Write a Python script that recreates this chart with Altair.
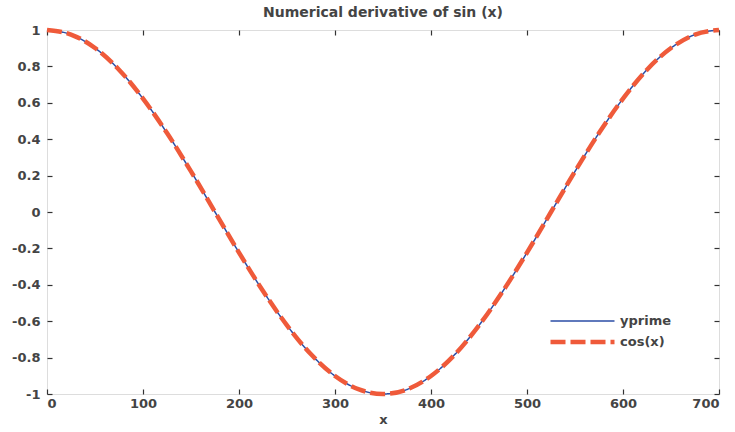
import altair as alt
import pandas as pd

x_vals = [0, 25, 50, 75, 100, 125, 150, 175, 200, 225, 250, 275, 300, 325, 350,
          375, 400, 425, 450, 475, 500, 525, 550, 575, 600, 625, 650, 675, 700]
yprime_vals = [1.0, 0.975, 0.901, 0.782, 0.623, 0.434, 0.223, 0.0, -0.223, -0.434,
               -0.623, -0.782, -0.901, -0.975, -1.0, -0.975, -0.901, -0.782, -0.623,
               -0.434, -0.223, 0.0, 0.223, 0.434, 0.623, 0.782, 0.901, 0.975, 1.0]
cos_vals = [1.0, 0.975, 0.901, 0.782, 0.623, 0.434, 0.223, 0.0, -0.223, -0.434,
            -0.623, -0.782, -0.901, -0.975, -1.0, -0.975, -0.901, -0.782, -0.623,
            -0.434, -0.223, 0.0, 0.223, 0.434, 0.623, 0.782, 0.901, 0.975, 1.0]
series_names = ["yprime", "cos(x)"]
x_ticks = [0, 100, 200, 300, 400, 500, 600, 700]
y_ticks = [-1, -0.8, -0.6, -0.4, -0.2, 0, 0.2, 0.4, 0.6, 0.8, 1]

df = pd.DataFrame({
    "x": x_vals * 2,
    "y": yprime_vals + cos_vals,
    "series": [series_names[0]] * len(x_vals) + [series_names[1]] * len(x_vals),
})

FONT = "DejaVu Sans"
TXT = "#444444"
lab_expr = "replace(datum.label, '\u2212', '-')"


def leg():
    return alt.Legend(title=None, orient="none", legendX=501, legendY=282,
                      symbolType="stroke", symbolSize=4096, clipHeight=18, rowPadding=3,
                      labelFont=FONT, labelFontSize=13, labelFontWeight="bold",
                      labelColor=TXT, labelOffset=3)


color = alt.Color("series:N", scale=alt.Scale(domain=series_names, range=["#2b4ea6", "#ef5a3a"]),
                  legend=leg())
dash = alt.StrokeDash("series:N", scale=alt.Scale(domain=series_names, range=[[1, 0], [15, 5]]),
                      legend=leg())
sw = alt.StrokeWidth("series:O", scale=alt.Scale(domain=series_names, range=[1.5, 4.5]),
                     legend=leg())

xscale = alt.Scale(domain=[0, 700], nice=False, zero=False)
yscale = alt.Scale(domain=[-1, 1], nice=False, zero=False)

ax_common = dict(domain=False, grid=False, tickSize=5, offset=-5, tickColor="#333333",
                 tickWidth=1.2, labelFont=FONT, labelFontSize=13, labelFontWeight="bold",
                 labelColor=TXT, titleFont=FONT, titleFontSize=13, titleColor=TXT,
                 titleFontWeight="bold")

blue = alt.Chart(df).transform_filter(alt.datum.series == "yprime").mark_line(
    interpolate="monotone").encode(
    x=alt.X("x:Q", scale=xscale,
            axis=alt.Axis(orient="bottom", values=x_ticks, title="x", labelPadding=3,
                          titlePadding=3, labelExpr=lab_expr, **ax_common)),
    y=alt.Y("y:Q", scale=yscale,
            axis=alt.Axis(orient="left", values=y_ticks, title=None, labelPadding=7,
                          format="~g", labelExpr=lab_expr, **ax_common)),
    color=color, strokeDash=dash, strokeWidth=sw,
)

red = alt.Chart(df).transform_filter(alt.datum.series == "cos(x)").mark_line(
    interpolate="monotone").encode(
    x=alt.X("x:Q", scale=xscale,
            axis=alt.Axis(orient="top", values=x_ticks, title=None, labels=False, **ax_common)),
    y=alt.Y("y:Q", scale=yscale,
            axis=alt.Axis(orient="right", values=y_ticks, title=None, labels=False, **ax_common)),
    color=color, strokeDash=dash, strokeWidth=sw,
)

chart = alt.layer(blue, red).resolve_axis(x="independent", y="independent").properties(
    width=672, height=364,
    autosize=alt.AutoSizeParams(type="none"),
    padding={"left": 47, "top": 30, "right": 16, "bottom": 38},
    title=alt.TitleParams("Numerical derivative of sin (x)", font=FONT, fontSize=14,
                          fontWeight="bold", color=TXT, offset=1, anchor="middle"),
).configure_view(stroke="#333333", strokeWidth=1.3).configure(background="white")

chart.save("out.html", embed_options={"renderer": "svg", "actions": False})
